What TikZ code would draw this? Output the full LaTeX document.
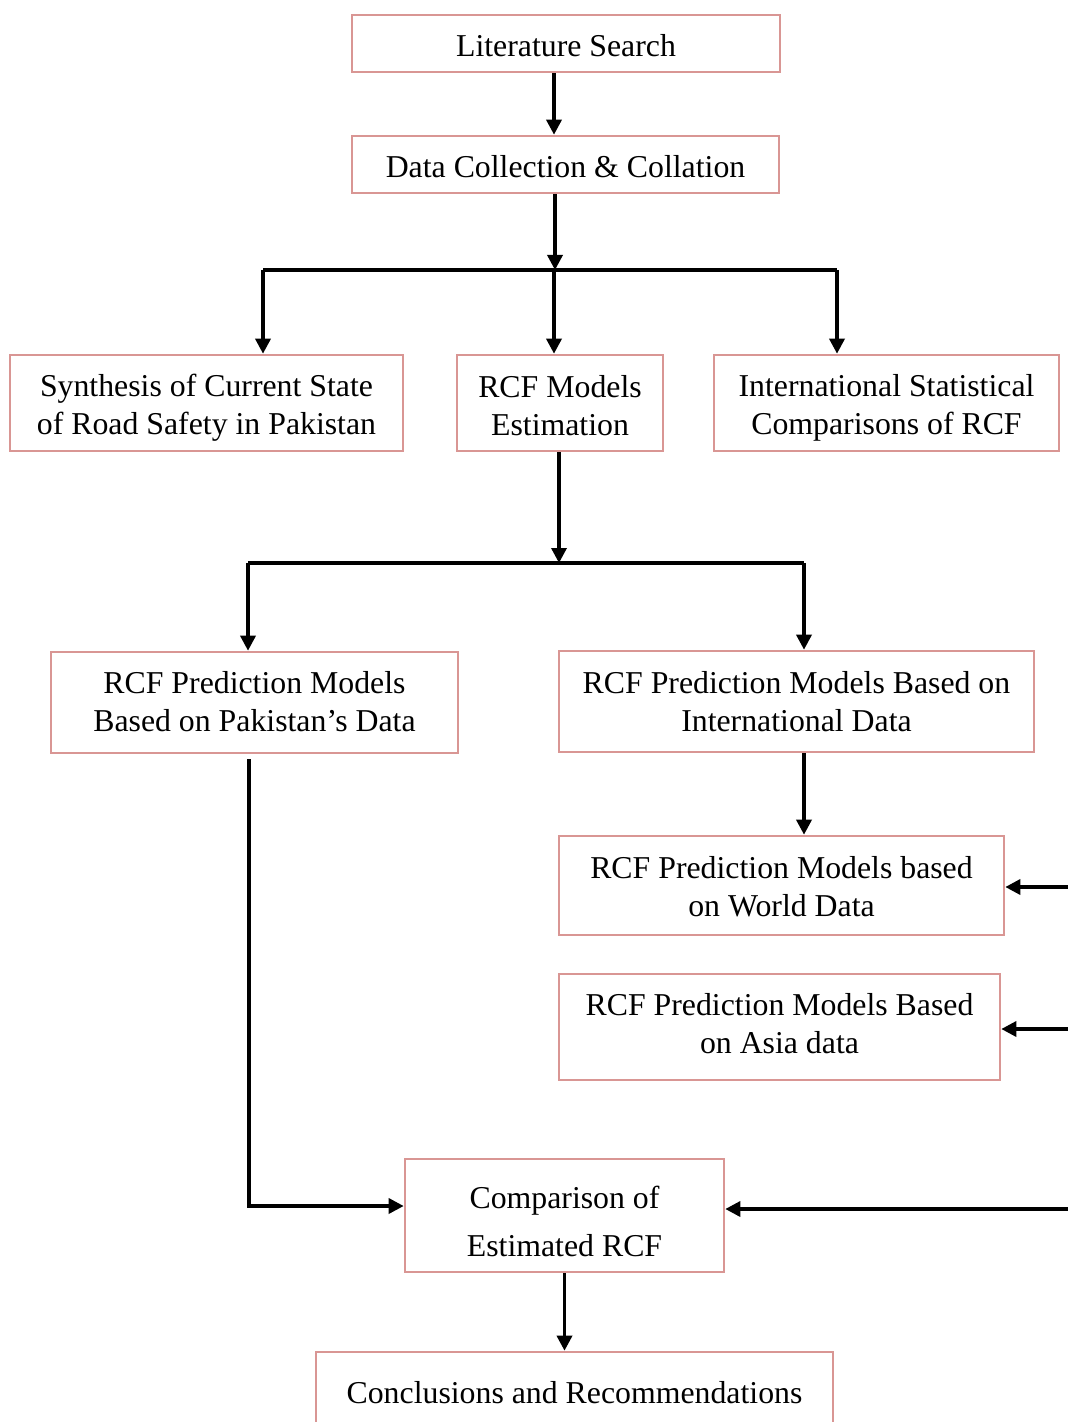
\documentclass[tikz,border=0pt]{standalone}
\usepackage{fontspec}
\setmainfont{Liberation Serif}
\usetikzlibrary{arrows.meta}
\definecolor{boxpink}{RGB}{217,150,148}
\newcommand{\liftby}[2]{\raisebox{#1}[\height][\depth]{\begin{tabular}{@{}c@{}}#2\end{tabular}}}
\begin{document}
\begin{tikzpicture}[x=0.5pt,y=-0.5pt,
  box/.style={draw=boxpink, line width=1.3pt, fill=white, align=center, inner sep=0pt,
    font=\fontsize{15.9}{19}\selectfont},
  arr/.style={line width=1.7pt, -{Triangle[length=7.5pt,width=7.5pt]}},
  ln/.style={line width=1.7pt}]
\useasboundingbox (0,0) rectangle (1068,1422);
\clip (0,0) rectangle (1068,1422);
% boxes
\node[box, minimum width=214pt, minimum height=28.5pt] (n1) at (566,43.5) {\liftby{-2.5pt}{Literature Search}};
\node[box, minimum width=213.5pt, minimum height=28.5pt] (n2) at (565.5,164.5) {\liftby{-2.5pt}{Data Collection \& Collation}};
\node[box, minimum width=196.5pt, minimum height=48pt] (n3) at (206.5,403) {\liftby{-2.5pt}{Synthesis of Current State\\of Road Safety in Pakistan}};
\node[box, minimum width=103pt, minimum height=48pt] (n4) at (560,403) {\liftby{-2.75pt}{RCF Models\\Estimation}};
\node[box, minimum width=172.5pt, minimum height=48pt] (n5) at (886.5,403) {\liftby{-2.5pt}{International Statistical\\Comparisons of RCF}};
\node[box, minimum width=203.5pt, minimum height=50.5pt] (n6) at (254.5,702.5) {\liftby{-1pt}{RCF Prediction Models\\Based on Pakistan’s Data}};
\node[box, minimum width=237.5pt, minimum height=50.5pt] (n7) at (796.5,701.5) {\liftby{-1.75pt}{RCF Prediction Models Based on\\International Data}};
\node[box, minimum width=222.5pt, minimum height=49.5pt] (n8) at (781.5,885.5) {\liftby{-2pt}{RCF Prediction Models based\\on World Data}};
\node[box, minimum width=220.5pt, minimum height=53pt] (n9) at (779.5,1027) {\liftby{0pt}{RCF Prediction Models Based\\on Asia data}};
\node[box, minimum width=159.5pt, minimum height=56.5pt] (n10) at (564.5,1215.5) {\liftby{-4.75pt}{Comparison of\\[5pt]Estimated RCF}};
\node[box, minimum width=258.5pt, minimum height=40pt] (n11) at (574.5,1392) {\liftby{-2pt}{Conclusions and Recommendations}};
% helper coordinates
\coordinate (c1) at (554,0);
\coordinate (b1) at (555,270);
\coordinate (b1l) at (263,270);
\coordinate (b1r) at (837,270);
\coordinate (b2) at (559,563);
\coordinate (b2l) at (248,563);
\coordinate (b2r) at (804,563);
\coordinate (k) at (249,1206);
\coordinate (e1) at (1068,887);
\coordinate (e2) at (1068,1029);
\coordinate (e3) at (1068,1209);
% connectors
\draw[arr] (c1 |- n1.south) -- (c1 |- n2.north);
\draw[arr] (b1 |- n2.south) -- (b1);
\draw[ln] (b1l) -- (b1r);
\draw[arr] (b1l) -- (b1l |- n3.north);
\draw[arr] (c1 |- b1) -- (c1 |- n4.north);
\draw[arr] (b1r) -- (b1r |- n5.north);
\draw[arr] (b2 |- n4.south) -- (b2);
\draw[ln] (b2l) -- (b2r);
\draw[arr] (b2l) -- (b2l |- n6.north);
\draw[arr] (b2r) -- (b2r |- n7.north);
\draw[arr] (b2r |- n7.south) -- (b2r |- n8.north);
\draw[arr] (e1) -- (e1 -| n8.east);
\draw[arr] (e2) -- (e2 -| n9.east);
\draw[arr] ([yshift=-2.5pt]k |- n6.south) -- (k) -- (k -| n10.west);
\draw[arr] (e3) -- (e3 -| n10.east);
\draw[arr] (n10.south) -- (n10.south |- n11.north);
\end{tikzpicture}
\end{document}
